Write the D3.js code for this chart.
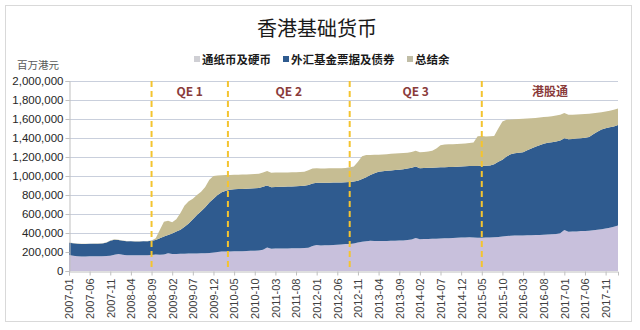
<!DOCTYPE html>
<html>
<head>
<meta charset="utf-8">
<script src="https://cdn.jsdelivr.net/npm/d3@7"></script>
<style>
  html, body { margin: 0; padding: 0; background: #fff; }
  svg { display: block; }
</style>
</head>
<body>
<svg id="chart" width="640" height="330"></svg>
<script>
// ---------- DATA (million HKD) ----------
const startMonth = "2007-01";
const endMonth = "2018-02";

const seriesNames = ["通纸币及硬币", "外汇基金票据及债券", "总结余"];

const notesCoins = [
168000,160000,155000,153000,153000,154000,155000,155000,156000,157000,160000,172000,
178000,170000,166000,165000,165000,165000,166000,166000,168000,175000,172000,174000,
186000,178000,180000,181000,182000,183000,184000,185000,186000,188000,190000,196000,
200000,206000,204000,206000,207000,208000,209000,210000,212000,214000,216000,225000,
248000,235000,236000,236000,237000,238000,239000,240000,240000,242000,246000,262000,
274000,268000,270000,272000,274000,277000,280000,283000,285000,290000,300000,308000,
312000,318000,315000,316000,316000,317000,318000,319000,320000,322000,326000,332000,
347000,335000,337000,338000,339000,340000,342000,344000,345000,347000,350000,352000,
352000,356000,352000,351000,351000,352000,353000,355000,358000,362000,368000,372000,
373000,374000,375000,376000,377000,378000,379000,381000,384000,386000,390000,398000,
432000,414000,415000,417000,420000,422000,424000,428000,433000,440000,447000,455000,
465000,480000];

const efbn = [
130000,132000,133000,132000,132000,132000,132000,133000,134000,141000,158000,156000,
148000,148000,148000,147000,146000,146000,146000,148000,150000,151000,173000,188000,
194000,217000,235000,254000,283000,317000,361000,405000,444000,482000,530000,564000,
600000,622000,642000,650000,653000,654000,655000,656000,656000,656000,659000,661000,
652000,647000,648000,650000,651000,651000,651000,652000,655000,656000,659000,660000,
654000,662000,660000,658000,657000,654000,652000,651000,652000,652000,651000,660000,
674000,692000,713000,730000,734000,738000,740000,743000,746000,750000,754000,756000,
753000,747000,748000,749000,749000,750000,749000,749000,750000,749000,748000,748000,
750000,748000,752000,755000,757000,756000,757000,770000,792000,810000,837000,856000,
867000,871000,875000,894000,913000,930000,946000,959000,966000,970000,974000,977000,
966000,972000,975000,978000,978000,980000,986000,1012000,1033000,1050000,1055000,1057000,
1057000,1056000];

const aggregateBalance = [
2000,2000,2000,2000,2000,2000,2000,2000,2000,2000,4000,5000,
4000,3000,2000,2000,2000,2000,2000,2000,2000,18000,87000,157000,
150000,117000,130000,175000,225000,235000,215000,210000,205000,215000,240000,240000,
206000,180000,164000,155000,152000,151000,151000,150000,150000,150000,150000,150000,
153000,153000,152000,150000,149000,149000,149000,148000,147000,147000,155000,156000,
153000,150000,150000,151000,150000,151000,150000,151000,154000,158000,199000,240000,
234000,212000,196000,179000,177000,175000,175000,174000,174000,171000,166000,164000,
167000,167000,167000,171000,177000,200000,232000,239000,238000,238000,238000,240000,
241000,243000,248000,312000,312000,308000,308000,297000,350000,403000,387000,368000,
358000,355000,353000,335000,318000,302000,290000,280000,275000,274000,274000,270000,
264000,259000,255000,253000,252000,251000,246000,220000,199000,182000,178000,176000,
176000,174000];

const yTicks = [0,200000,400000,600000,800000,1000000,1200000,1400000,1600000,1800000,2000000];
const xTickLabels = ["2007-01","2007-06","2007-11","2008-04","2008-09","2009-02","2009-07","2009-12",
  "2010-05","2010-10","2011-03","2011-08","2012-01","2012-06","2012-11","2013-04","2013-09",
  "2014-02","2014-07","2014-12","2015-05","2015-10","2016-03","2016-08","2017-01","2017-06","2017-11"];

// event markers (dashed lines) at month positions; labels sit between consecutive markers
const eventMonths = ["2008-09", "2010-03", "2012-09", "2015-05"];
const eventOffsets = [0, 0.5, 0, 0];
const eventLabels = ["QE 1", "QE 2", "QE 3", "港股通"];

// ---------- BUILD ----------
const parse = d3.timeParse("%Y-%m");
const fmtM = d3.timeFormat("%Y-%m");
const months = d3.timeMonth.range(parse(startMonth), d3.timeMonth.offset(parse(endMonth), 1)).map(fmtM);

const rows = months.map((m, i) => ({
  month: m,
  a: notesCoins[i],
  b: efbn[i],
  c: aggregateBalance[i]
}));

const colors = ["#c8c0dc", "#2f5b8f", "#c6bd93"];
const legendColors = ["#cfcfd4", "#2f5b8f", "#c0bda6"];

const svg = d3.select("#chart");
const W = 640, H = 330;
const plot = { left: 69, right: 618, top: 81, bottom: 271 };

// outer frame
svg.append("rect").attr("x", 5.5).attr("y", 5.5).attr("width", 626).attr("height", 316)
  .attr("fill", "#fff").attr("stroke", "#d9d9d9").attr("stroke-width", 1);

const x = d3.scaleLinear().domain([0, months.length - 1]).range([plot.left, plot.right]);
const y = d3.scaleLinear().domain([0, 2000000]).range([plot.bottom, plot.top]);

// gridlines
svg.append("g").selectAll("line").data(yTicks.filter(d => d > 0)).join("line")
  .attr("x1", plot.left).attr("x2", plot.right)
  .attr("y1", d => Math.round(y(d)) + 0.5).attr("y2", d => Math.round(y(d)) + 0.5)
  .attr("stroke", "#c9cfdc").attr("stroke-width", 1);

// stacked areas
const stack = d3.stack().keys(["a", "b", "c"]);
const layers = stack(rows);
const area = d3.area()
  .x((d, i) => x(i))
  .y0(d => y(d[0]))
  .y1(d => y(d[1]));
svg.append("g").selectAll("path").data(layers).join("path")
  .attr("d", area)
  .attr("fill", (d, i) => colors[i]);

// y axis
const yAxis = d3.axisLeft(y).tickValues(yTicks).tickSize(4).tickFormat(d3.format(","));
const gy = svg.append("g").attr("transform", `translate(${plot.left + 0.5},0)`).call(yAxis);
gy.select(".domain").attr("stroke", "#bfbfbf");
gy.selectAll(".tick line").attr("stroke", "#bfbfbf");
gy.selectAll(".tick text").attr("font-family", "Liberation Sans, Arial, sans-serif")
  .attr("font-size", 11.5).attr("fill", "#262626").attr("x", -6);

// x axis
const xIdx = xTickLabels.map(l => months.indexOf(l));
const xAxis = d3.axisBottom(x).tickValues(xIdx).tickSize(4).tickFormat(i => months[i]);
const gx = svg.append("g").attr("transform", `translate(0,${plot.bottom + 0.5})`).call(xAxis);
gx.select(".domain").attr("stroke", "#bfbfbf");
gx.selectAll(".tick line").attr("stroke", "#bfbfbf");
gx.selectAll(".tick text")
  .attr("font-family", "Liberation Sans, Arial, sans-serif")
  .attr("font-size", 11).attr("fill", "#404040")
  .attr("transform", "rotate(-90)")
  .attr("text-anchor", "end")
  .attr("x", -7).attr("y", 0).attr("dy", "0.35em");

// event dashed lines
const evX = eventMonths.map((m, i) => x(months.indexOf(m) + eventOffsets[i]));
svg.append("g").selectAll("line").data(evX).join("line")
  .attr("x1", d => d).attr("x2", d => d)
  .attr("y1", plot.top).attr("y2", plot.bottom)
  .attr("stroke", "#f4c430").attr("stroke-width", 2)
  .attr("stroke-dasharray", "6,4");

// event labels
const bounds = evX.concat([plot.right]);
svg.append("g").selectAll("text").data(eventLabels).join("text")
  .attr("x", (d, i) => (bounds[i] + bounds[i + 1]) / 2)
  .attr("y", 96)
  .attr("text-anchor", "middle")
  .attr("font-family", "Noto Sans CJK SC, Open Sans, sans-serif")
  .attr("font-weight", "bold")
  .attr("font-size", 12)
  .attr("fill", "#8a3b3b")
  .text(d => d);

// title
svg.append("text").attr("x", 317).attr("y", 36).attr("text-anchor", "middle")
  .attr("font-family", "Noto Sans CJK SC, sans-serif")
  .attr("font-size", 20).attr("fill", "#1a1a1a")
  .text("香港基础货币");

// y unit label
svg.append("text").attr("x", 38).attr("y", 69).attr("text-anchor", "middle")
  .attr("font-family", "Noto Sans CJK SC, sans-serif")
  .attr("font-size", 10.5).attr("fill", "#595959")
  .text("百万港元");

// legend
const legendX = [194, 283, 407];
const lg = svg.append("g");
seriesNames.forEach((name, i) => {
  lg.append("rect").attr("x", legendX[i]).attr("y", 56).attr("width", 6).attr("height", 6)
    .attr("fill", legendColors[i]);
  lg.append("text").attr("x", legendX[i] + 8).attr("y", 63.5)
    .attr("font-family", "Noto Sans CJK SC, sans-serif")
    .attr("font-weight", "bold").attr("font-size", 11.5).attr("fill", "#1a1a1a")
    .text(name);
});
</script>
</body>
</html>
